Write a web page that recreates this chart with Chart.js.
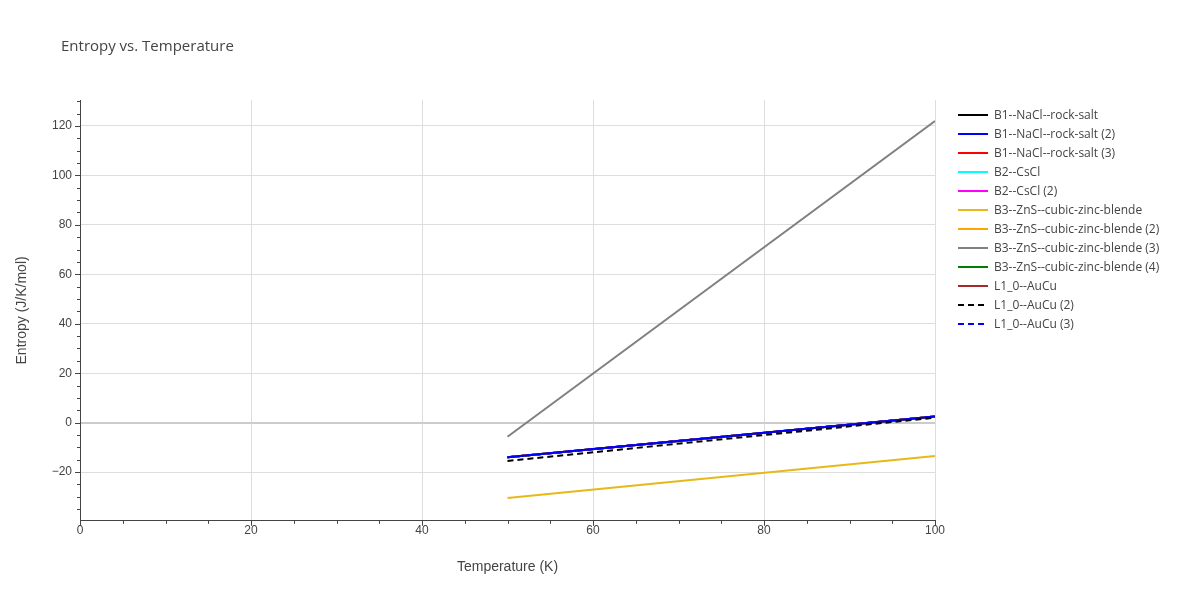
<!DOCTYPE html>
<html>
<head>
<meta charset="utf-8">
<script src="https://cdn.jsdelivr.net/npm/chart.js@4"></script>
<style>
  body { margin: 0; background: #fff; font-family: "Open Sans", sans-serif; }
  #wrap { position: relative; width: 1200px; height: 600px; }
  #title { position: absolute; left: 61px; top: 35px; font-size: 15px; color: #444; }
  #legend { position: absolute; left: 958px; top: 105px; font-size: 12px; color: #444; }
  .item { height: 19px; display: flex; align-items: center; }
  .item svg { margin-right: 6px; }
</style>
</head>
<body>
<div id="wrap">
  <canvas id="myChart" width="1200" height="600"></canvas>
  <div id="title">Entropy vs. Temperature</div>
  <div id="legend"></div>
</div>
<script>
const temps = [50, 100];
const seriesNames = [
  "B1--NaCl--rock-salt", "B1--NaCl--rock-salt (2)", "B1--NaCl--rock-salt (3)",
  "B2--CsCl", "B2--CsCl (2)", "B3--ZnS--cubic-zinc-blende",
  "B3--ZnS--cubic-zinc-blende (2)", "B3--ZnS--cubic-zinc-blende (3)",
  "B3--ZnS--cubic-zinc-blende (4)", "L1_0--AuCu", "L1_0--AuCu (2)", "L1_0--AuCu (3)"
];
const seriesValues = [
  [-14, 2.5], [-14, 2.5], [-14, 2.5],
  [-14, 2.5], [-14, 2.5], [-30.5, -13.5],
  [-14, 2.5], [-5.7, 122],
  [-14, 2.5], [-14, 2.5], [-15.5, 2], [-14, 2.5]
];
const colors = ["#000000", "#0000ff", "#ff0000", "#00ffff", "#ff00ff", "#e6b919",
  "#ffa500", "#808080", "#008000", "#a52a2a", "#000000", "#0000ff"];
const dashed = [false, false, false, false, false, false, false, false, false, false, true, true];
// first entries are drawn on top
const drawOrder = [10, 1, 7, 5, 11, 9, 8, 6, 4, 3, 2, 0];

const legend = document.getElementById("legend");
seriesNames.forEach((name, i) => {
  legend.insertAdjacentHTML("beforeend",
    `<div class="item"><svg width="30" height="4"><line x1="0" y1="2" x2="30" y2="2" stroke="${colors[i]}" stroke-width="2" ${dashed[i] ? 'stroke-dasharray="6,4"' : ""}/></svg>${name}</div>`);
});

const minorTicks = {
  id: "minorTicks",
  afterDraw(chart) {
    const { ctx, scales: { x, y }, chartArea } = chart;
    ctx.save();
    ctx.strokeStyle = "#444";
    ctx.lineWidth = 1;
    for (let v = 0; v <= 100; v += 5) {
      const px = Math.round(x.getPixelForValue(v)) + 0.5;
      ctx.beginPath();
      ctx.moveTo(px, chartArea.bottom);
      ctx.lineTo(px, chartArea.bottom + (v % 20 === 0 ? 5 : 3));
      ctx.stroke();
    }
    for (let v = -35; v <= 130; v += 5) {
      const py = Math.round(y.getPixelForValue(v)) + 0.5;
      ctx.beginPath();
      ctx.moveTo(chartArea.left, py);
      ctx.lineTo(chartArea.left - (v % 20 === 0 ? 5 : 3), py);
      ctx.stroke();
    }
    ctx.restore();
  }
};

const ctx = document.getElementById("myChart");
const grafico = new Chart(ctx, {
  type: "line",
  data: {
    datasets: drawOrder.map((i) => ({
      label: seriesNames[i],
      data: temps.map((t, k) => ({ x: t, y: seriesValues[i][k] })),
      borderColor: colors[i],
      borderWidth: 2,
      borderDash: dashed[i] ? [6, 4] : [],
      pointRadius: 0,
      fill: false,
    })),
  },
  plugins: [minorTicks],
  options: {
    responsive: false,
    animation: false,
    layout: { padding: { left: 10, right: 265, top: 100, bottom: 20 } },
    plugins: { legend: { display: false }, tooltip: { enabled: false } },
    scales: {
      x: {
        type: "linear", min: 0, max: 100,
        ticks: { stepSize: 20, color: "#444", font: { size: 12 } },
        grid: { color: "#ddd", drawTicks: false },
        border: { color: "#444" },
        title: { display: true, text: "Temperature (K)", color: "#444", font: { size: 14 }, padding: { top: 18 } },
      },
      y: {
        min: -39.7, max: 130.5,
        afterBuildTicks: (axis) => {
          axis.ticks = [-20, 0, 20, 40, 60, 80, 100, 120].map((v) => ({ value: v }));
        },
        ticks: { color: "#444", font: { size: 12 }, padding: 8, callback: (v) => String(v).replace("-", "\u2212") },
        afterFit: (axis) => { axis.width = 70; },
        grid: { color: (c) => (c.tick && c.tick.value === 0 ? "#ccc" : "#ddd"), lineWidth: (c) => (c.tick && c.tick.value === 0 ? 2 : 1), drawTicks: false },
        border: { color: "#444" },
        title: { display: true, text: "Entropy (J/K/mol)", color: "#444", font: { size: 14 } },
      },
    },
  },
});
grafico.update();
</script>
</body>
</html>
